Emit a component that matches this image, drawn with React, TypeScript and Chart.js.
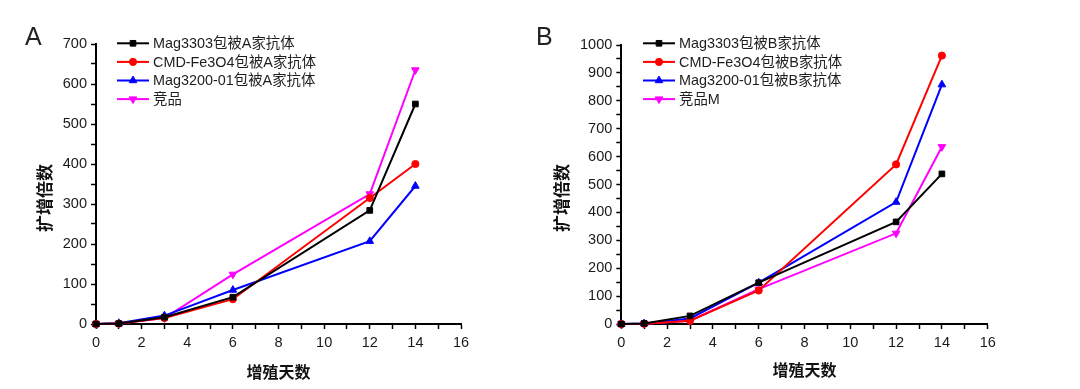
import React, { useEffect, useRef } from "react";
import { Chart, registerables } from "chart.js";
import { drawPoint } from "chart.js/helpers";

Chart.register(...registerables);

// ---------- data ----------
const days = [0, 1, 3, 6, 12, 14];

const aLabels = ["Mag3303包被A家抗体", "CMD-Fe3O4包被A家抗体", "Mag3200-01包被A家抗体", "竞品"];
const aMag3303 = [0, 1, 17, 67, 284, 550];
const aCmd = [0, 1, 15, 62, 315, 400];
const aMag3200 = [0, 2, 21, 85, 207, 345];
const aComp = [0, 1, 15, 124, 325, 635];

const bLabels = ["Mag3303包被B家抗体", "CMD-Fe3O4包被B家抗体", "Mag3200-01包被B家抗体", "竞品M"];
const bMag3303 = [0, 2, 29, 148, 366, 538];
const bCmd = [0, 1, 12, 120, 572, 962];
const bMag3200 = [0, 2, 20, 148, 437, 858];
const bComp = [0, 1, 12, 125, 325, 635];

const yTitle = "扩增倍数";
const xTitle = "增殖天数";

const colors = ["#000000", "#ff0000", "#0000ff", "#ff00ff"];
const pointStyles = ["rect", "circle", "triangle", "triangle"];
const pointRotations = [0, 0, 0, 180];
const pointRadii = [4, 3.6, 4.4, 4.4];

const FONT = '"Liberation Sans", "Noto Sans CJK SC", sans-serif';
const CJK_BOLD = '"Noto Sans CJK SC", "Liberation Sans", sans-serif';

type Geo = {
  left: number; // canvas offset in page
  width: number;
  height: number;
  L: number; R: number; T: number; B: number;
  yMax: number;
  legendX: number; legendY: number; legendRow: number;
  yTitleX: number; yTitleY: number;
  xTitleY: number;
  panelX: number; panelY: number;
};

const decorPlugin = {
  id: "decor",
  afterDraw(chart: any, _args: any, opts: any) {
    const ctx = chart.ctx as CanvasRenderingContext2D;
    const ca = chart.chartArea;
    ctx.save();
    // legend
    chart.data.datasets.forEach((ds: any, i: number) => {
      const y = opts.legendY + i * opts.legendRow;
      const x0 = opts.legendX;
      const len = 32;
      ctx.strokeStyle = ds.borderColor;
      ctx.lineWidth = 2;
      ctx.beginPath();
      ctx.moveTo(x0, y);
      ctx.lineTo(x0 + len, y);
      ctx.stroke();
      ctx.fillStyle = ds.pointBackgroundColor;
      ctx.strokeStyle = ds.borderColor;
      ctx.lineWidth = 1;
      drawPoint(
        ctx,
        { pointStyle: ds.pointStyle, rotation: ds.pointRotation, radius: ds.pointRadius, borderWidth: 1 } as any,
        x0 + len / 2,
        y
      );
      ctx.fillStyle = "#1e1e1e";
      ctx.font = `14.4px ${FONT}`;
      ctx.textAlign = "left";
      ctx.textBaseline = "middle";
      ctx.fillText(ds.label, x0 + len + 4, y + 1);
    });
    // y title
    ctx.fillStyle = "#111";
    ctx.font = `bold 17px ${CJK_BOLD}`;
    ctx.textAlign = "center";
    ctx.textBaseline = "middle";
    ctx.save();
    ctx.translate(opts.yTitleX, opts.yTitleY);
    ctx.rotate(-Math.PI / 2);
    ctx.fillText(opts.yTitle, 0, 0);
    ctx.restore();
    // x title
    ctx.font = `bold 16px ${CJK_BOLD}`;
    ctx.fillText(opts.xTitle, (ca.left + ca.right) / 2, opts.xTitleY);
    // panel label
    ctx.font = `25px ${FONT}`;
    ctx.textAlign = "left";
    ctx.textBaseline = "alphabetic";
    ctx.fillStyle = "#222";
    ctx.fillText(opts.panel, opts.panelX, opts.panelY);
    ctx.restore();
  },
};

function Panel(props: { geo: Geo; labels: string[]; series: number[][]; panel: string }) {
  const ref = useRef<HTMLCanvasElement | null>(null);
  const { geo, labels, series, panel } = props;
  useEffect(() => {
    if (!ref.current) return;
    const datasets = series.map((vals, i) => ({
      label: labels[i],
      data: days.map((d, j) => ({ x: d, y: vals[j] })),
      borderColor: colors[i],
      backgroundColor: colors[i],
      pointBackgroundColor: colors[i],
      pointBorderColor: colors[i],
      pointStyle: pointStyles[i],
      pointRotation: pointRotations[i],
      pointRadius: pointRadii[i],
      pointBorderWidth: 1,
      borderWidth: 2,
      tension: 0,
      clip: false as any,
    }));
    const chart = new Chart(ref.current, {
      type: "line",
      data: { datasets },
      options: {
        animation: false,
        responsive: false,
        events: [],
        layout: { padding: { top: geo.T, right: geo.width - geo.R, left: 0, bottom: 0 } },
        plugins: {
          legend: { display: false },
          tooltip: { enabled: false },
          decor: {
            legendX: geo.legendX,
            legendY: geo.legendY,
            legendRow: geo.legendRow,
            yTitleX: geo.yTitleX,
            yTitleY: geo.yTitleY,
            xTitleY: geo.xTitleY,
            yTitle,
            xTitle,
            panel,
            panelX: geo.panelX,
            panelY: geo.panelY,
          },
        } as any,
        scales: {
          x: {
            type: "linear",
            min: 0,
            max: 16,
            afterFit: (s: any) => {
              s.height = geo.height - geo.B;
            },
            ticks: {
              stepSize: 1,
              autoSkip: false,
              maxRotation: 0,
              padding: 5,
              color: "#1a1a1a",
              font: { family: FONT, size: 14.5 },
              callback: (v: any) => (Number(v) % 2 === 0 ? String(v) : ""),
            },
            grid: {
              display: true,
              drawOnChartArea: false,
              drawTicks: true,
              tickLength: 5,
              tickColor: "#000",
              tickWidth: 1.5,
            },
            border: { display: true, color: "#000", width: 2 },
          },
          y: {
            type: "linear",
            min: 0,
            max: geo.yMax,
            afterFit: (s: any) => {
              s.width = geo.L;
            },
            ticks: {
              stepSize: 50,
              autoSkip: false,
              padding: 4,
              color: "#1a1a1a",
              font: { family: FONT, size: 14.5 },
              callback: (v: any) => (Number(v) % 100 === 0 ? String(v) : ""),
            },
            grid: {
              display: true,
              drawOnChartArea: false,
              drawTicks: true,
              tickLength: 5,
              tickColor: "#000",
              tickWidth: 1.5,
            },
            border: { display: true, color: "#000", width: 2 },
          },
        },
      },
      plugins: [decorPlugin as any],
    });
    return () => chart.destroy();
  }, []);
  return (
    <canvas
      ref={ref}
      width={geo.width}
      height={geo.height}
      style={{ position: "absolute", left: geo.left, top: 0, width: geo.width, height: geo.height }}
    />
  );
}

const geoA: Geo = {
  left: 0, width: 530, height: 389,
  L: 96, R: 461, T: 44, B: 324, yMax: 700,
  legendX: 117, legendY: 43.3, legendRow: 18.6,
  yTitleX: 45, yTitleY: 198, xTitleY: 371.5,
  panelX: 25, panelY: 45,
};

const geoB: Geo = {
  left: 530, width: 550, height: 389,
  L: 91.3, R: 457.7, T: 45, B: 324, yMax: 1000,
  legendX: 113, legendY: 43.3, legendRow: 18.6,
  yTitleX: 32, yTitleY: 198, xTitleY: 369.5,
  panelX: 6, panelY: 45,
};

export default function App() {
  return (
    <div style={{ position: "fixed", left: 0, top: 0, width: 1080, height: 389, background: "#fff" }}>
      <Panel geo={geoA} labels={aLabels} series={[aMag3303, aCmd, aMag3200, aComp]} panel="A" />
      <Panel geo={geoB} labels={bLabels} series={[bMag3303, bCmd, bMag3200, bComp]} panel="B" />
    </div>
  );
}
